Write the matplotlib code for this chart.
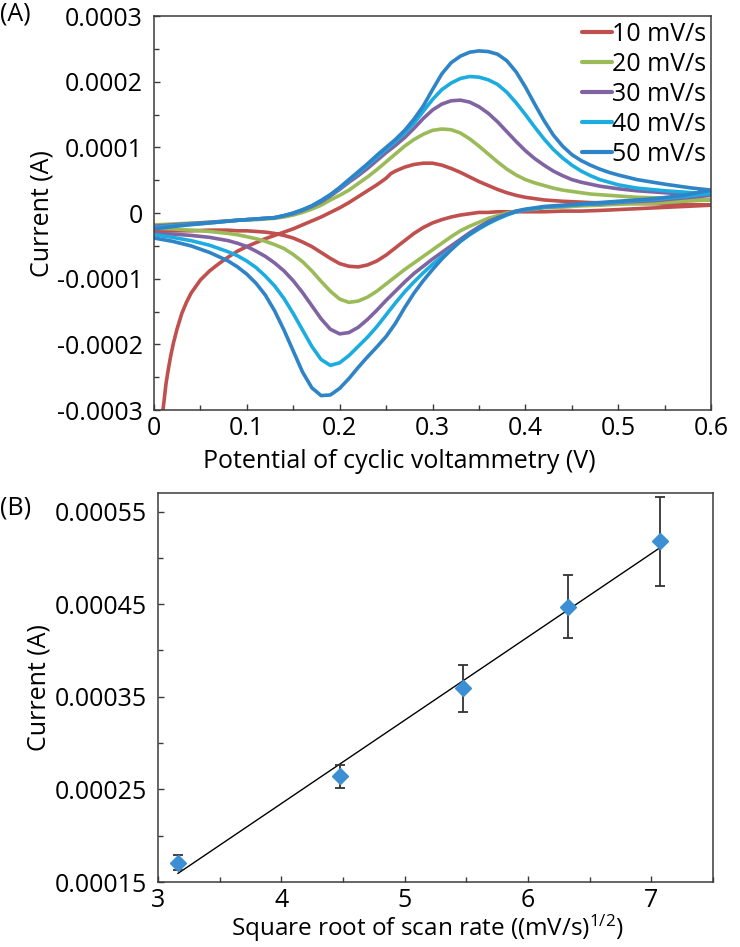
import numpy as np
import matplotlib
matplotlib.use("Agg")
import matplotlib.pyplot as plt
from matplotlib.ticker import MultipleLocator, FuncFormatter

plt.rcParams['font.family'] = ['Open Sans', 'DejaVu Sans']
plt.rcParams['mathtext.fontset'] = 'custom'
plt.rcParams['mathtext.rm'] = 'Open Sans'
plt.rcParams['mathtext.it'] = 'Open Sans'

SCALE = 1e-4  # currents below are read in units of 1e-4 A

# ---------------- Panel A: cyclic voltammograms ----------------
labels = ['10 mV/s', '20 mV/s', '30 mV/s', '40 mV/s', '50 mV/s']
colors = ['#C0504D', '#9BBB59', '#8064A2', '#1CACE0', '#2E84C6']

# forward (anodic) sweep potentials (V)
v_fwd = [0.00, 0.03, 0.06, 0.09, 0.11, 0.13, 0.14,
         0.15, 0.16, 0.17, 0.18, 0.19, 0.20, 0.21, 0.22, 0.23, 0.24,
         0.25, 0.26, 0.27, 0.28, 0.29, 0.30, 0.31, 0.32, 0.33, 0.34,
         0.35, 0.36, 0.37, 0.38, 0.39, 0.40, 0.41, 0.42, 0.43, 0.44,
         0.45, 0.46, 0.47, 0.48, 0.49, 0.50,
         0.52, 0.55, 0.58, 0.60]
i_fwd_20 = [-0.18, -0.16, -0.14, -0.11, -0.10, -0.08, -0.06,
            -0.03, 0.01, 0.06, 0.12, 0.20, 0.27, 0.35, 0.45, 0.55, 0.66,
            0.78, 0.90, 1.02, 1.12, 1.20, 1.26, 1.28, 1.27, 1.22, 1.13,
            1.02, 0.90, 0.78, 0.67, 0.58, 0.51, 0.46, 0.42, 0.38, 0.35,
            0.33, 0.31, 0.29, 0.28, 0.27, 0.26,
            0.24, 0.23, 0.21, 0.20]
i_fwd_30 = [-0.20, -0.17, -0.14, -0.11, -0.09, -0.07, -0.04,
            -0.01, 0.04, 0.10, 0.17, 0.26, 0.36, 0.47, 0.57, 0.68, 0.80,
            0.92, 1.03, 1.15, 1.29, 1.44, 1.57, 1.66, 1.71, 1.72, 1.69,
            1.62, 1.52, 1.39, 1.24, 1.09, 0.95, 0.83, 0.73, 0.64, 0.57,
            0.51, 0.47, 0.44, 0.41, 0.39, 0.37,
            0.34, 0.31, 0.28, 0.27]
i_fwd_40 = [-0.22, -0.18, -0.15, -0.11, -0.09, -0.07, -0.04,
            0.00, 0.05, 0.11, 0.19, 0.28, 0.38, 0.50, 0.61, 0.73, 0.85,
            0.97, 1.09, 1.22, 1.37, 1.55, 1.73, 1.88, 1.98, 2.05, 2.08,
            2.07, 2.03, 1.96, 1.84, 1.68, 1.50, 1.31, 1.13, 0.97, 0.84,
            0.73, 0.64, 0.57, 0.51, 0.47, 0.43,
            0.38, 0.34, 0.31, 0.30]
i_fwd_50 = [-0.24, -0.19, -0.15, -0.11, -0.09, -0.07, -0.04,
            0.00, 0.05, 0.11, 0.19, 0.28, 0.39, 0.51, 0.63, 0.75, 0.88,
            1.00, 1.12, 1.26, 1.43, 1.63, 1.88, 2.12, 2.29, 2.39, 2.45,
            2.47, 2.46, 2.42, 2.32, 2.15, 1.92, 1.66, 1.41, 1.19, 1.02,
            0.89, 0.80, 0.73, 0.67, 0.62, 0.58,
            0.51, 0.44, 0.38, 0.35]

# 10 mV/s forward sweep (starts with a large cathodic transient)
v_fwd_10 = [0.0085, 0.0097, 0.011, 0.013, 0.015, 0.018, 0.021, 0.025, 0.03, 0.035,
            0.04, 0.05, 0.06, 0.07, 0.08, 0.09, 0.10, 0.11, 0.12, 0.13, 0.14,
            0.15, 0.16, 0.17, 0.18, 0.19, 0.20, 0.21, 0.22, 0.23, 0.24, 0.25,
            0.255, 0.26, 0.27, 0.28, 0.29, 0.30, 0.31, 0.32, 0.33, 0.34, 0.35,
            0.36, 0.37, 0.38, 0.39, 0.40, 0.42, 0.44, 0.47, 0.50, 0.55, 0.60]
i_fwd_10 = [-3.3, -3.0, -2.85, -2.6, -2.42, -2.18, -1.98, -1.76, -1.53, -1.36,
            -1.22, -1.02, -0.88, -0.77, -0.67, -0.58, -0.51, -0.45, -0.39, -0.34, -0.29,
            -0.24, -0.18, -0.12, -0.06, 0.01, 0.08, 0.16, 0.25, 0.34, 0.43, 0.53,
            0.60, 0.64, 0.70, 0.74, 0.76, 0.76, 0.73, 0.68, 0.62, 0.55, 0.48,
            0.42, 0.36, 0.31, 0.27, 0.24, 0.20, 0.18, 0.16, 0.15, 0.14, 0.12]

# reverse (cathodic) sweep potentials (V)
v_rev = [0.60, 0.57, 0.54, 0.51, 0.48, 0.46, 0.44, 0.42,
         0.41, 0.40, 0.39, 0.38, 0.37, 0.36, 0.35, 0.34, 0.33, 0.32,
         0.31, 0.30, 0.29, 0.28, 0.27, 0.26, 0.25, 0.24, 0.23, 0.22,
         0.21, 0.20, 0.19, 0.18, 0.17, 0.16, 0.15, 0.14, 0.13, 0.12,
         0.11, 0.10, 0.09, 0.08,
         0.06, 0.04, 0.02, 0.00]
i_rev_10 = [0.12, 0.10, 0.08, 0.06, 0.04, 0.03, 0.03, 0.02,
            0.02, 0.02, 0.02, 0.02, 0.02, 0.01, 0.01, -0.01, -0.03, -0.06,
            -0.10, -0.15, -0.22, -0.31, -0.42, -0.53, -0.64, -0.73, -0.79, -0.82,
            -0.81, -0.77, -0.69, -0.60, -0.51, -0.44, -0.38, -0.34, -0.31, -0.29,
            -0.28, -0.27, -0.27, -0.26,
            -0.26, -0.27, -0.27, -0.28]
i_rev_20 = [0.20, 0.18, 0.15, 0.14, 0.12, 0.11, 0.09, 0.08,
            0.06, 0.05, 0.03, 0.00, -0.04, -0.08, -0.14, -0.20, -0.27, -0.36,
            -0.46, -0.56, -0.66, -0.76, -0.86, -0.97, -1.08, -1.19, -1.28, -1.34,
            -1.36, -1.31, -1.19, -1.04, -0.88, -0.74, -0.63, -0.54, -0.48, -0.43,
            -0.39, -0.36, -0.33, -0.31,
            -0.28, -0.26, -0.24, -0.23]
i_rev_30 = [0.27, 0.23, 0.19, 0.17, 0.14, 0.13, 0.11, 0.09,
            0.07, 0.05, 0.02, -0.02, -0.07, -0.13, -0.21, -0.30, -0.40, -0.50,
            -0.60, -0.70, -0.81, -0.92, -1.05, -1.19, -1.33, -1.48, -1.62, -1.74,
            -1.82, -1.84, -1.77, -1.61, -1.41, -1.21, -1.03, -0.88, -0.76, -0.66,
            -0.58, -0.51, -0.46, -0.42,
            -0.37, -0.34, -0.32, -0.31]
i_rev_40 = [0.30, 0.25, 0.21, 0.18, 0.15, 0.13, 0.11, 0.09,
            0.07, 0.05, 0.02, -0.03, -0.09, -0.16, -0.24, -0.33, -0.43, -0.55,
            -0.66, -0.78, -0.91, -1.05, -1.20, -1.37, -1.55, -1.73, -1.89, -2.03,
            -2.17, -2.28, -2.32, -2.23, -2.03, -1.78, -1.53, -1.30, -1.11, -0.96,
            -0.83, -0.73, -0.65, -0.59,
            -0.49, -0.42, -0.37, -0.33]
i_rev_50 = [0.35, 0.27, 0.22, 0.19, 0.16, 0.14, 0.12, 0.10,
            0.08, 0.06, 0.03, -0.02, -0.08, -0.15, -0.23, -0.32, -0.43, -0.56,
            -0.70, -0.86, -1.03, -1.22, -1.44, -1.68, -1.88, -2.04, -2.19, -2.35,
            -2.52, -2.67, -2.77, -2.78, -2.66, -2.42, -2.10, -1.78, -1.49, -1.25,
            -1.07, -0.93, -0.82, -0.73,
            -0.60, -0.50, -0.43, -0.38]

fwd_v_list = [v_fwd_10, v_fwd, v_fwd, v_fwd, v_fwd]
fwd_i_list = [i_fwd_10, i_fwd_20, i_fwd_30, i_fwd_40, i_fwd_50]
rev_i_list = [i_rev_10, i_rev_20, i_rev_30, i_rev_40, i_rev_50]

# ---------------- Panel B: peak current vs sqrt(scan rate) ----------------
sqrt_rate = [3.162, 4.472, 5.477, 6.325, 7.071]
peak_current = [0.000171, 0.000264, 0.000359, 0.000447, 0.000518]
peak_err = [0.000008, 0.0000125, 0.000025, 0.000034, 0.000048]

fig = plt.figure(figsize=(7.4, 9.47), dpi=100)
axA = fig.add_axes([0.208, 0.567, 0.753, 0.416])
axB = fig.add_axes([0.2135, 0.0686, 0.75, 0.4108])

FS = 18
spine_col = '#3a3a3a'

def style(ax):
    for s in ax.spines.values():
        s.set_color(spine_col)
        s.set_linewidth(1.1)
    ax.tick_params(which='both', direction='in', top=False, right=False,
                   color=spine_col, labelsize=FS, width=1.0)
    ax.tick_params(which='major', length=4.5)
    ax.tick_params(which='minor', length=3.5)
    ax.tick_params(axis='x', which='major', pad=4)
    ax.tick_params(axis='y', which='major', pad=8)

for k in range(5):
    vf = np.asarray(fwd_v_list[k])
    ifw = np.asarray(fwd_i_list[k]) * SCALE
    vr = np.asarray(v_rev)
    ir = np.asarray(rev_i_list[k]) * SCALE
    axA.plot(np.concatenate([vf, vr[1:]]), np.concatenate([ifw, ir[1:]]),
             color=colors[k], lw=2.6, label=labels[k],
             solid_joinstyle='round', solid_capstyle='round')

axA.set_xlim(0, 0.6)
axA.set_ylim(-0.0003, 0.0003)
axA.xaxis.set_major_locator(MultipleLocator(0.1))
axA.xaxis.set_minor_locator(MultipleLocator(0.05))
axA.yaxis.set_major_locator(MultipleLocator(0.0001))
axA.yaxis.set_minor_locator(MultipleLocator(0.00005))
fmt = FuncFormatter(lambda v, p: '0' if abs(v) < 1e-12 else ('%g' % round(v, 6)))
axA.xaxis.set_major_formatter(fmt)
axA.yaxis.set_major_formatter(fmt)
style(axA)
axA.set_xlabel('Potential of cyclic voltammetry (V)', fontsize=FS, labelpad=6)
axA.xaxis.label.set_x(0.44)
axA.set_ylabel('Current (A)', fontsize=FS, labelpad=2)
leg = axA.legend(loc='upper right', bbox_to_anchor=(1.0, 1.0), frameon=False,
                 fontsize=FS, handlelength=1.2, handletextpad=0.0, labelspacing=0.2,
                 borderpad=0.12, borderaxespad=0.1)
for h in leg.get_lines():
    h.set_linewidth(3.0)

# Panel B
xs = np.asarray(sqrt_rate)
ys = np.asarray(peak_current)
coef = np.polyfit(xs, ys, 1)
axB.plot(xs, np.polyval(coef, xs), color='black', lw=1.0, zorder=2)
axB.errorbar(xs, ys, yerr=peak_err, fmt='D', color='#3B8FD2', ms=8, mec='#3B8FD2',
             ecolor='#333333', elinewidth=1.3, capsize=3.5, capthick=1.3, zorder=3)
axB.set_xlim(3, 7.5)
axB.set_ylim(0.00015, 0.00057)
axB.xaxis.set_major_locator(MultipleLocator(1))
axB.xaxis.set_minor_locator(MultipleLocator(0.5))
axB.yaxis.set_major_locator(MultipleLocator(0.0001, offset=0.00005))
axB.yaxis.set_minor_locator(MultipleLocator(0.00005))
axB.xaxis.set_major_formatter(fmt)
axB.yaxis.set_major_formatter(fmt)
style(axB)
axB.set_xlabel(r'Square root of scan rate ((mV/s)$^{1/2}$)', fontsize=17.5, labelpad=0)
axB.xaxis.label.set_x(0.485)
axB.set_ylabel('Current (A)', fontsize=FS, labelpad=2)

fig.text(0.0, 0.985, '(A)', fontsize=18, va='center', ha='left')
fig.text(0.0, 1 - 508 / 947, '(B)', fontsize=18, va='center', ha='left')

fig.savefig('out.png', dpi=100)
